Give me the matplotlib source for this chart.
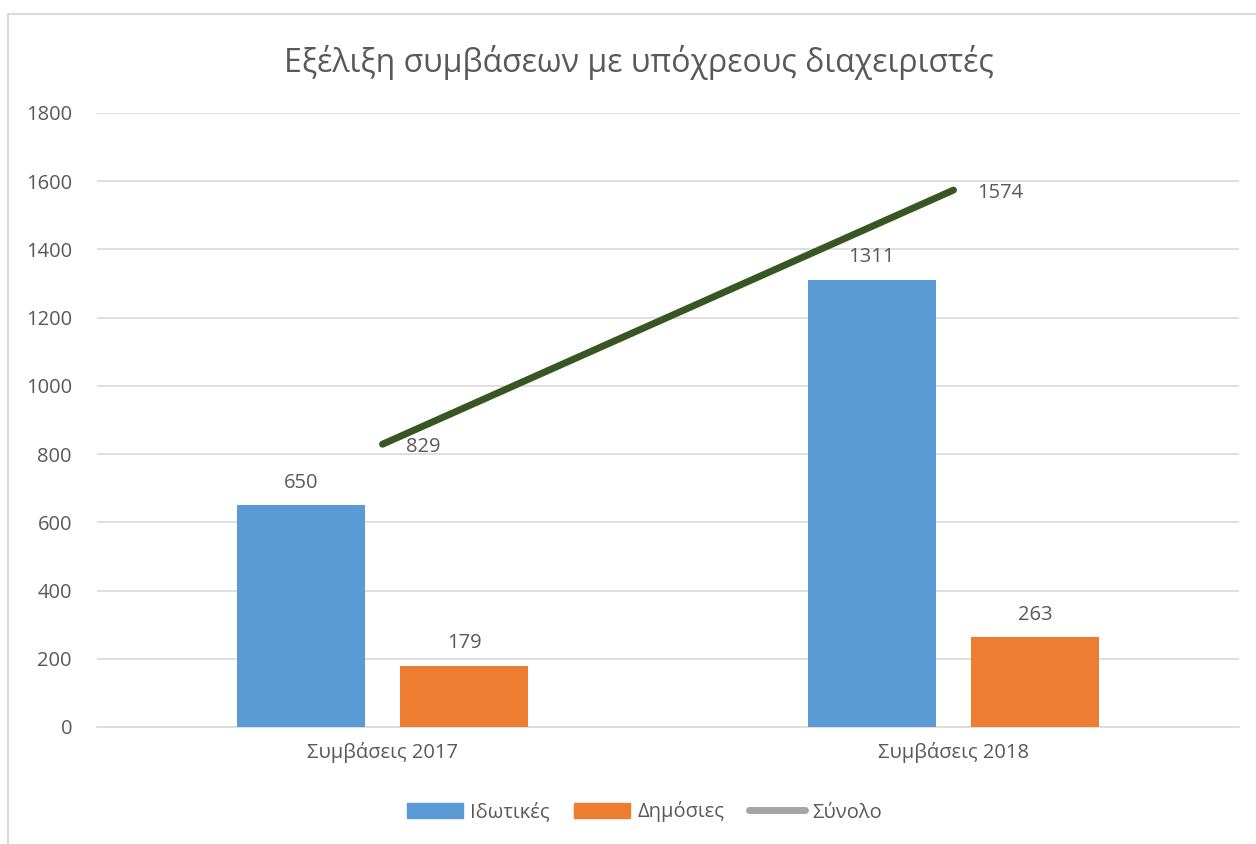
import matplotlib
matplotlib.use("Agg")
import matplotlib.pyplot as plt
from matplotlib.patches import Patch, Rectangle
from matplotlib.lines import Line2D
import numpy as np

plt.rcParams['font.family'] = ['Open Sans', 'DejaVu Sans']

# δεδομένα
categories = ["Συμβάσεις 2017", "Συμβάσεις 2018"]
private = [650, 1311]
public = [179, 263]
total = [829, 1574]
series_names = ["Ιδωτικές", "Δημόσιες", "Σύνολο"]
yticks = [0, 200, 400, 600, 800, 1000, 1200, 1400, 1600, 1800]

blue = "#5B9BD5"
orange = "#ED7D31"
green = "#375623"
text_col = "#595959"
grid_col = "#D9D9D9"

fig = plt.figure(figsize=(12.56, 8.44), dpi=100)
# περίγραμμα
fig.patches.append(Rectangle((8 / 1256, -0.1), 1.2, 1 - 14 / 844 + 0.1,
                             transform=fig.transFigure, fill=False,
                             edgecolor="#D9D9D9", linewidth=1.5))

ax = fig.add_axes((97 / 1256, 1 - 727 / 844, 1142 / 1256, 614 / 844))

x = np.arange(len(categories))
w = 0.224
off = 0.143
b1 = ax.bar(x - off, private, w, color=blue, zorder=3)
b2 = ax.bar(x + off, public, w, color=orange, zorder=3)
ax.plot(x, total, color=green, linewidth=5, solid_capstyle="round", zorder=4)

for rect, v in zip(b1, private):
    ax.annotate(str(v), (rect.get_x() + rect.get_width() / 2, v),
                xytext=(0, 9), textcoords="offset points", ha="center",
                va="bottom", fontsize=14.5, color=text_col)
for rect, v in zip(b2, public):
    ax.annotate(str(v), (rect.get_x() + rect.get_width() / 2, v),
                xytext=(0, 9), textcoords="offset points", ha="center",
                va="bottom", fontsize=14.5, color=text_col)
for xi, v in zip(x, total):
    ax.annotate(str(v), (xi, v), xytext=(17, -2), textcoords="offset points",
                ha="left", va="center", fontsize=14.5, color=text_col)

ax.set_xlim(-0.5, 1.5)
ax.set_ylim(0, 1800)
ax.set_yticks(yticks)
ax.set_xticks(x)
ax.set_xticklabels(categories)
ax.tick_params(axis="both", length=0, labelsize=14.5, colors=text_col)
ax.tick_params(axis="y", pad=18)
ax.tick_params(axis="x", pad=11)
ax.grid(axis="y", color=grid_col, linewidth=1.2, zorder=0)
for s in ["top", "right", "left"]:
    ax.spines[s].set_visible(False)
ax.spines["bottom"].set_color(grid_col)
ax.spines["bottom"].set_linewidth(1.2)

fig.text(0.509, 1 - 62 / 844, "Εξέλιξη συμβάσεων με υπόχρεους διαχειριστές",
         ha="center", va="center", fontsize=23, color=text_col)

handles = [Patch(color=blue), Patch(color=orange),
           Line2D([0], [0], color="#A5A5A5", linewidth=5, solid_capstyle="round")]
fig.legend(handles, series_names, loc="center", bbox_to_anchor=(0.513, 1 - 812 / 844),
           ncol=3, frameon=False, fontsize=14.5, labelcolor=text_col,
           handlelength=2.8, handleheight=0.8, handletextpad=0.35, columnspacing=1.2)

fig.savefig("out.png", dpi=100)
